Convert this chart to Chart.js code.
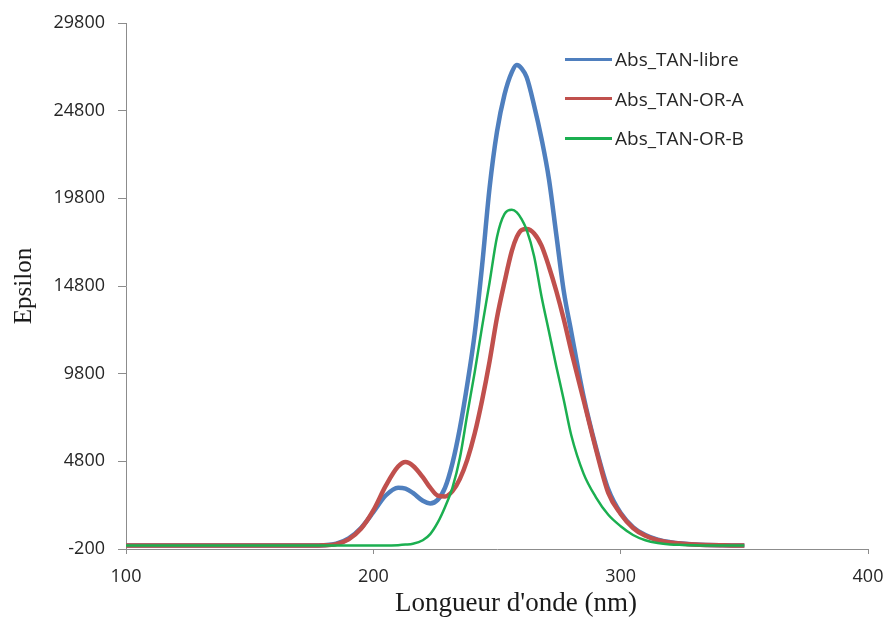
<!DOCTYPE html>
<html>
<head>
<meta charset="utf-8">
<script src="https://cdn.jsdelivr.net/npm/chart.js@4/dist/chart.umd.min.js"></script>
<style>
  html, body { margin: 0; padding: 0; background: #fff; }
  #wrap { position: relative; width: 890px; height: 626px; }
  #legend { position: absolute; left: 565px; top: 44px; font-family: "Open Sans", sans-serif; font-size: 19px; color: #262626; }
  .row { position: absolute; left: 0; height: 30px; display: flex; align-items: center; white-space: nowrap; }
  .sw { width: 47px; height: 3px; margin-right: 3px; }
</style>
</head>
<body>
<div id="wrap">
  <canvas id="c" width="890" height="626"></canvas>
  <div id="legend"></div>
</div>
<script>
const seriesNames = ["Abs_TAN-libre", "Abs_TAN-OR-A", "Abs_TAN-OR-B"];
const xTitle = "Longueur d'onde (nm)";
const yTitle = "Epsilon";
const wavelengths = [100, 120, 140, 160, 175, 180, 185, 190, 195, 200, 205, 210, 213, 216, 220, 223, 226, 229, 232, 235, 238, 241, 244, 247, 250, 253, 256, 258, 260, 262, 265, 268, 271, 274, 277, 280, 285, 290, 295, 300, 305, 310, 315, 320, 325, 330, 335, 340, 345, 350];
const absLibre = [0, 0, 0, 0, 0, 20, 100, 400, 1000, 1900, 2850, 3300, 3250, 3000, 2550, 2400, 2600, 3300, 4700, 6700, 9200, 12100, 16000, 20400, 23600, 25700, 27000, 27400, 27200, 26700, 25100, 23200, 20900, 17700, 14500, 12200, 8500, 5600, 3200, 1850, 1050, 600, 330, 190, 110, 60, 30, 12, 0, 0];
const absOrA = [0, 0, 0, 0, 0, 10, 80, 350, 950, 2000, 3400, 4500, 4760, 4550, 3900, 3300, 2850, 2800, 3100, 3800, 4900, 6400, 8300, 10500, 13000, 15000, 16800, 17600, 18000, 18050, 17800, 17100, 15900, 14500, 12900, 11100, 8300, 5500, 3000, 1800, 1000, 550, 300, 170, 100, 50, 25, 10, 0, 0];
const absOrB = [0, 0, 0, 0, 0, 0, 0, 0, 0, 0, 0, 20, 50, 100, 300, 650, 1300, 2200, 3300, 5000, 7500, 9900, 12500, 15000, 17600, 18900, 19150, 19000, 18600, 18000, 16500, 14200, 12200, 10200, 8300, 6300, 4100, 2750, 1750, 1100, 600, 300, 140, 60, 30, 10, 0, 0, 0, 0];
const xTicks = [100, 200, 300, 400];
const yTicks = [-200, 4800, 9800, 14800, 19800, 24800, 29800];

const colors = ["#4F7FBE", "#C0504D", "#1BAF50"];
const widths = [4.5, 4.5, 2.5];
const values = [absLibre, absOrA, absOrB];

const datasets = seriesNames.map((name, i) => ({
  label: name,
  data: wavelengths.map((w, k) => ({ x: w, y: values[i][k] })),
  borderColor: colors[i],
  backgroundColor: colors[i],
  borderWidth: widths[i],
  pointRadius: 0,
  fill: false,
  cubicInterpolationMode: 'monotone',
  order: 2 - i
}));

const axisColor = "#8c8c8c";
const tickFont = { family: "Open Sans", size: 18 };

const xTitlePlugin = {
  id: 'xTitle',
  afterDraw(chart) {
    const ctx = chart.ctx;
    const xs = chart.scales.x;
    ctx.save();
    ctx.font = '27px "Liberation Serif"';
    ctx.fillStyle = '#1a1a1a';
    ctx.textAlign = 'center';
    ctx.textBaseline = 'alphabetic';
    ctx.fillText(xTitle, (xs.left + xs.right) / 2 + 19, xs.bottom - 15);
    ctx.restore();
  }
};

new Chart(document.getElementById('c'), {
  type: 'line',
  data: { datasets },
  plugins: [xTitlePlugin],
  options: {
    responsive: false,
    animation: false,
    layout: { padding: { left: 0, top: 23, right: 22, bottom: 0 } },
    plugins: { legend: { display: false }, tooltip: { enabled: false } },
    scales: {
      x: {
        type: 'linear', min: 100, max: 400,
        afterBuildTicks: s => { s.ticks = xTicks.map(v => ({ value: v })); },
        afterFit: s => { s.height = 77; s.paddingLeft = 0; s.paddingRight = 0; },
        grid: { drawOnChartArea: false, drawTicks: true, tickLength: 5, color: axisColor },
        border: { color: axisColor, width: 1 },
        ticks: { color: "#262626", font: tickFont, padding: 12, maxRotation: 0 },
        title: { display: false }
      },
      y: {
        type: 'linear', min: -200, max: 29800,
        afterBuildTicks: s => { s.ticks = yTicks.map(v => ({ value: v })); },
        afterFit: s => { s.width = 126; s.paddingTop = 0; s.paddingBottom = 0; },
        grid: { drawOnChartArea: false, drawTicks: true, tickLength: 8, color: axisColor },
        border: { color: axisColor, width: 1 },
        ticks: { color: "#262626", font: tickFont, padding: 13, callback: v => String(v) },
        title: { display: true, text: yTitle, color: "#1a1a1a",
                 font: { family: "Liberation Serif", size: 25 }, padding: { top: 9, bottom: 0 } }
      }
    }
  }
});

const leg = document.getElementById('legend');
seriesNames.forEach((name, i) => {
  const row = document.createElement('div');
  row.className = 'row';
  row.style.top = (i * 39.5) + 'px';
  const sw = document.createElement('div');
  sw.className = 'sw';
  sw.style.background = colors[i];
  const t = document.createElement('span');
  t.textContent = name;
  row.appendChild(sw);
  row.appendChild(t);
  leg.appendChild(row);
});
</script>
</body>
</html>
